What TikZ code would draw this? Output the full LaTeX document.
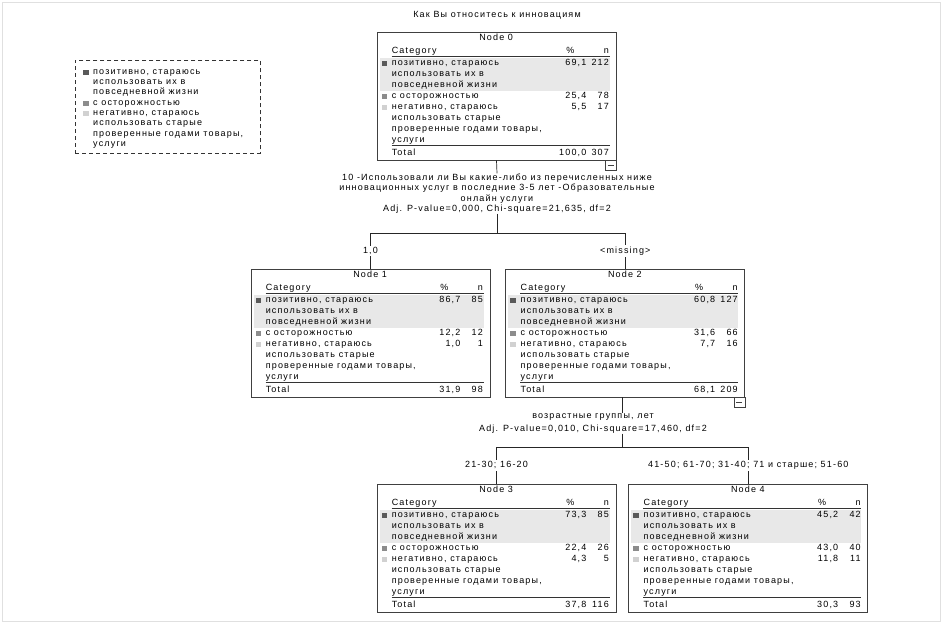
\documentclass[tikz,border=0pt]{standalone}
\usepackage{fontspec}
\setmainfont{Liberation Sans}[LetterSpace=13]
\usetikzlibrary{positioning}

% category labels with their colour marks, one line every #4
\newcommand{\catrows}[4]{%
  \fill[mark1] (#2-10,#3-2.2) rectangle ++(5.5,4.5);
  \fill[mark2] (#2-10,#3+3*#4-2.2) rectangle ++(5.5,4.5);
  \fill[mark3] (#2-10,#3+4*#4-2.2) rectangle ++(5.5,4.5);
  \foreach \txt [count=\k] in {{позитивно, стараюсь}, {использовать их в},
      {повседневной жизни}, {с осторожностью}, {негативно, стараюсь},
      {использовать старые}, {проверенные годами товары,}, {услуги}}
    \node[cell, anchor=west] (#1\k) at (#2,{#3+#4*(\k-1)}) {\txt};
}

% contents of one tree node
\newcommand{\filltable}[9]{%
  \begin{scope}[shift={(node#1.north west)}]
    \fill[band] (3,26) rectangle (233,59);
    \node[cell] (t#1title) at (119.5,7) {Node #1};
    \node[cell, anchor=west] (t#1cat) at (15,20) {Category};
    \node[cell, anchor=east] (t#1pct) at (198,20) {\%};
    \node[cell, anchor=east] (t#1n) at (232.5,20) {n};
    \draw[rule] (15,25) -- (233,25);
    \catrows{t#1r}{15}{32}{11}
    \node[cell, anchor=east] (t#1p1) at (210,32) {#2};
    \node[cell, anchor=east] (t#1n1) at (232.5,32) {#3};
    \node[cell, anchor=east] (t#1p2) at (210,65) {#4};
    \node[cell, anchor=east] (t#1n2) at (232.5,65) {#5};
    \node[cell, anchor=east] (t#1p3) at (210,76) {#6};
    \node[cell, anchor=east] (t#1n3) at (232.5,76) {#7};
    \draw[rule] (15,114) -- (233,114);
    \node[cell, anchor=west] (t#1tot) at (15,122) {Total};
    \node[cell, anchor=east] (t#1pt) at (210,122) {#8};
    \node[cell, anchor=east] (t#1nt) at (232.5,122) {#9};
  \end{scope}}

\begin{document}
\begin{tikzpicture}[
    x = 1pt, y = -1pt,
    font = \fontsize{9}{11}\selectfont,
    cell/.style = {inner sep = 0pt, text height = 6pt, text depth = 2pt},
    treebox/.style = {draw = black!75, line width = 0.8pt, minimum width = 239pt,
        minimum height = 128pt, inner sep = 0pt},
    split/.style = {align = center, inner sep = 0pt},
    branch/.style = {fill = white, inner sep = 1.5pt},
    link/.style = {draw = black!85, line width = 0.7pt},
    rule/.style = {draw = black!80, line width = 1.2pt},
    band/.style = {fill = black!9},
    mark1/.style = {fill = black!65},
    mark2/.style = {fill = black!45},
    mark3/.style = {fill = black!18},
    fold/.style = {draw = black!75, line width = 0.6pt, minimum width = 11pt,
        minimum height = 10pt, inner sep = 0pt, anchor = north east,
        path picture = {\draw[line width = 0.7pt]
            ([xshift = -3pt]path picture bounding box.center) --
            ([xshift = 3pt]path picture bounding box.center);}}
  ]
  \useasboundingbox (0,0) rectangle (943,625);
  \draw[black!12] (2,2) rectangle (940,621);

  \node[cell] (title) at (497,15) {Как Вы относитесь к инновациям};

  % legend
  \node[draw = black!80, dashed, dash pattern = on 4pt off 3pt, line width = 0.7pt,
      anchor = north west, minimum width = 185pt, minimum height = 93pt] (legend) at (75,60) {};
  \begin{scope}[shift = {(legend.north west)}]
    \catrows{lg}{18}{12.3}{10.3}
  \end{scope}

  % tree nodes
  \node[treebox] (node0) at (496.5,96) {};
  \node[treebox] (node1) at (370.5,333) {};
  \node[treebox] (node2) [right = 15pt of node1] {};
  \node[treebox] (node3) at (496.5,548) {};
  \node[treebox] (node4) [right = 12pt of node3] {};

  \filltable{0}{69,1}{212}{25,4}{78}{5,5}{17}{100,0}{307}
  \filltable{1}{86,7}{85}{12,2}{12}{1,0}{1}{31,9}{98}
  \filltable{2}{60,8}{127}{31,6}{66}{7,7}{16}{68,1}{209}
  \filltable{3}{73,3}{85}{22,4}{26}{4,3}{5}{37,8}{116}
  \filltable{4}{45,2}{42}{43,0}{40}{11,8}{11}{30,3}{93}

  \node[fold] (fold0) at (node0.south east) {};
  \node[fold] (fold2) at (node2.south east) {};

  % first split
  \node[split, font = \fontsize{9}{10.5}\selectfont] (s1) at (497,193.5)
    {10 -Использовали ли Вы какие-либо из перечисленных ниже\\
     инновационных услуг в последние 3-5 лет -Образовательные\\
     онлайн услуги\\
     Adj. P-value=0,000, Chi-square=21,635, df=2};
  \coordinate (j1) at (497,233);
  \draw[link] (node0.south) -- (s1.north);
  \draw[link] (s1.south) -- (j1);
  \draw[link] (j1 -| node1.north) -- (j1 -| node2.north);
  \draw[link] (j1 -| node1.north) -- node[branch] (b1) {1,0} (node1.north);
  \draw[link] (j1 -| node2.north) -- node[branch] (b2) {<missing>} (node2.north);

  % second split
  \node[split] (s2) at (593,423.5)
    {возрастные группы, лет\\[2pt]
     Adj. P-value=0,010, Chi-square=17,460, df=2};
  \coordinate (j2) at (622,447);
  \draw[link] (node2.south -| j2) -- (s2.north -| j2);
  \draw[link] (s2.south -| j2) -- (j2);
  \draw[link] (j2 -| node3.north) -- (j2 -| node4.north);
  \draw[link] (j2 -| node3.north) -- node[branch] (b3) {21-30; 16-20} (node3.north);
  \draw[link] (j2 -| node4.north) -- node[branch] (b4) {41-50; 61-70; 31-40; 71 и старше; 51-60} (node4.north);
\end{tikzpicture}
\end{document}
